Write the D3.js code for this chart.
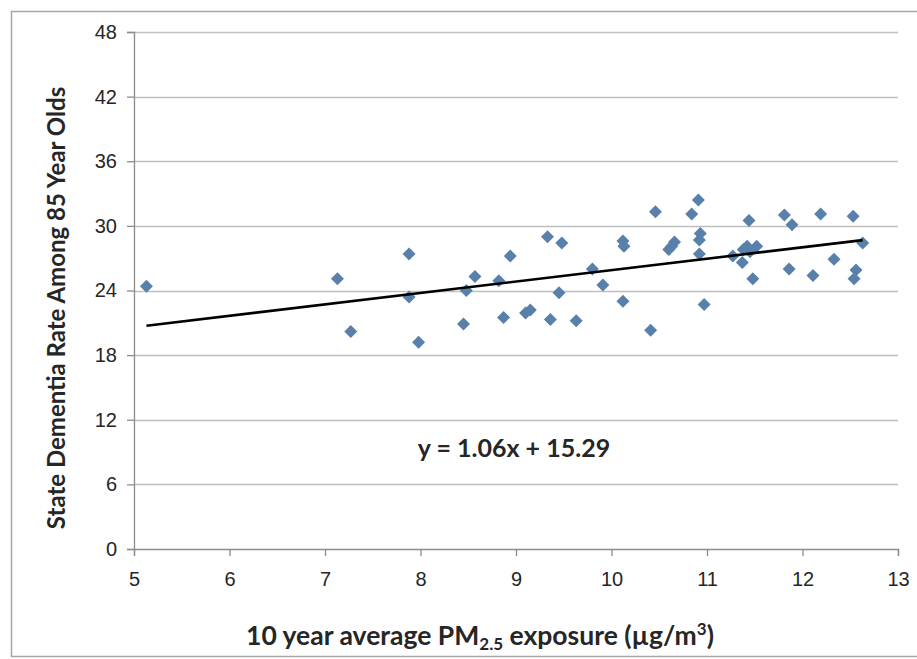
<!DOCTYPE html>
<html lang="en">
<head>
  <meta charset="UTF-8" />
  <title>Dementia rate vs PM2.5</title>
  <style>
    body { margin: 0; background: #fff; }
    svg { display: block; font-family: Lato, "Open Sans", sans-serif; }
    .tick text { font-size: 20px; fill: #262626; }
    .axis-title { font-weight: bold; fill: #262626; }
  </style>
</head>
<body>
  <svg width="917" height="659"></svg>
  <script src="https://d3js.org/d3.v7.min.js"></script>
  <script>
    // PM2.5 exposure (x) and dementia rate (y)
    const pm25 = [
      5.13, 7.13, 7.27, 7.88, 7.88, 7.98, 8.45, 8.48, 8.57, 8.82,
      8.87, 8.94, 9.10, 9.15, 9.33, 9.36, 9.48, 9.45, 9.63, 9.80,
      9.91, 10.12, 10.12, 10.13, 10.41, 10.46, 10.84, 10.91, 10.93, 10.92,
      10.92, 10.97, 10.60, 10.63, 10.66, 11.27, 11.37, 11.38, 11.45, 11.52,
      11.42, 11.44, 11.48, 11.81, 11.89, 11.86, 12.11, 12.19, 12.33, 12.53,
      12.56, 12.54, 12.63
    ];
    const rate = [
      24.4, 25.1, 20.2, 27.4, 23.4, 19.2, 20.9, 24.0, 25.3, 24.9,
      21.5, 27.2, 21.9, 22.2, 29.0, 21.3, 28.4, 23.8, 21.2, 26.0,
      24.5, 23.0, 28.6, 28.1, 20.3, 31.3, 31.1, 32.4, 29.3, 28.7,
      27.4, 22.7, 27.8, 28.1, 28.5, 27.2, 26.6, 27.8, 27.6, 28.1,
      28.1, 30.5, 25.1, 31.0, 30.1, 26.0, 25.4, 31.1, 26.9, 30.9,
      25.9, 25.1, 28.4
    ];
    const xTicks = [5, 6, 7, 8, 9, 10, 11, 12, 13];
    const yTicks = [0, 6, 12, 18, 24, 30, 36, 42, 48];
    const slope = 1.06, intercept = 15.29;
    const equation = "y = 1.06x + 15.29";

    const svg = d3.select("svg");
    const x = d3.scaleLinear().domain([5, 13]).range([134, 898]);
    const y = d3.scaleLinear().domain([0, 48]).range([549, 32]);

    // outer chart frame
    svg.append("rect")
      .attr("x", 11.5).attr("y", 11.5)
      .attr("width", 920).attr("height", 645)
      .attr("fill", "none").attr("stroke", "#a6a6a6").attr("stroke-width", 1.5);

    // gridlines
    svg.append("g").selectAll("line")
      .data(yTicks.filter(d => d > 0)).enter().append("line")
      .attr("x1", x(5)).attr("x2", x(13))
      .attr("y1", d => Math.round(y(d)) + 0.5).attr("y2", d => Math.round(y(d)) + 0.5)
      .attr("stroke", "#bfbfbf").attr("stroke-width", 1.3);

    const yAxis = svg.append("g")
      .attr("transform", `translate(${x(5)},0)`)
      .call(d3.axisLeft(y).tickValues(yTicks).tickSize(7).tickPadding(10));
    const xAxis = svg.append("g")
      .attr("transform", `translate(0,${y(0)})`)
      .call(d3.axisBottom(x).tickValues(xTicks).tickSize(7).tickPadding(16));
    [xAxis, yAxis].forEach(a => {
      a.select(".domain").attr("stroke", "#8c8c8c").attr("stroke-width", 1.3);
      a.selectAll(".tick line").attr("stroke", "#8c8c8c").attr("stroke-width", 1.3);
      a.selectAll(".tick text").attr("font-family", null).attr("font-size", null);
    });

    // points
    const pts = pm25.map((v, i) => ({ x: v, y: rate[i] }));
    svg.append("g").selectAll("path")
      .data(pts).enter().append("path")
      .attr("transform", d => `translate(${x(d.x)},${y(d.y)})`)
      .attr("d", "M0,-6.5L6.5,0L0,6.5L-6.5,0Z")
      .attr("fill", "#5880ab");

    // trendline across the data range
    const [xMin, xMax] = d3.extent(pm25);
    svg.append("line")
      .attr("x1", x(xMin)).attr("y1", y(slope * xMin + intercept))
      .attr("x2", x(xMax)).attr("y2", y(slope * xMax + intercept))
      .attr("stroke", "#000").attr("stroke-width", 2.6);

    svg.append("text")
      .attr("x", 514).attr("y", 457)
      .attr("text-anchor", "middle")
      .attr("font-size", 25).attr("font-weight", "bold").attr("fill", "#262626")
      .text(equation);

    // axis titles
    const xt = svg.append("text").attr("class", "axis-title")
      .attr("font-size", 26.5)
      .attr("x", 480).attr("y", 645).attr("text-anchor", "middle");
    xt.append("tspan").text("10 year average PM");
    xt.append("tspan").attr("font-size", 17).attr("dy", 5).text("2.5");
    xt.append("tspan").attr("dy", -5).text(" exposure (µg/m");
    xt.append("tspan").attr("font-size", 17).attr("dy", -10).text("3");
    xt.append("tspan").attr("dy", 10).text(")");

    svg.append("text").attr("class", "axis-title")
      .attr("font-size", 24)
      .attr("transform", "translate(65,308) rotate(-90)")
      .attr("text-anchor", "middle")
      .text("State Dementia Rate Among 85 Year Olds");
  </script>
</body>
</html>
